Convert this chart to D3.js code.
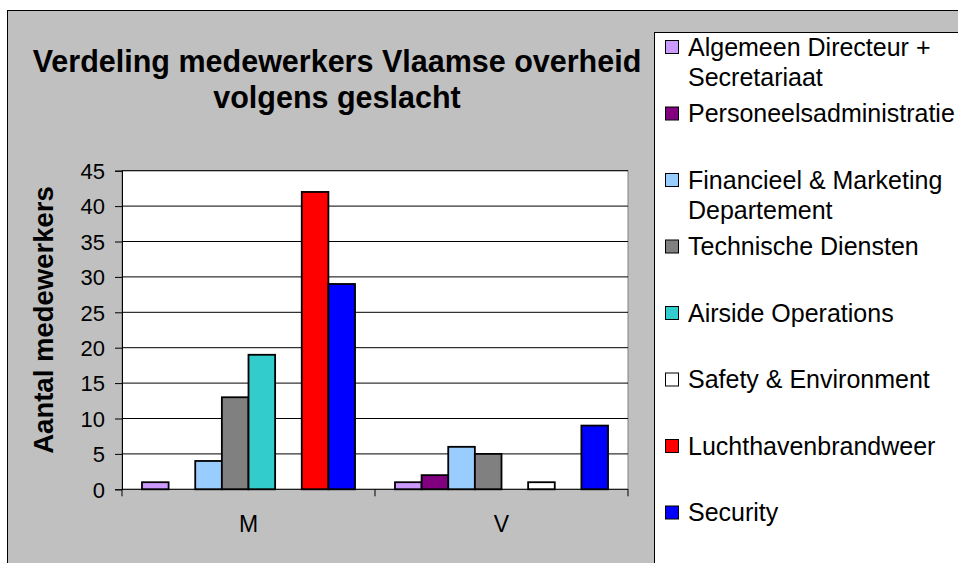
<!DOCTYPE html>
<html lang="nl">
<head>
    <meta charset="UTF-8">
    <title>Verdeling medewerkers Vlaamse overheid volgens geslacht</title>
    <script src="https://d3js.org/d3.v7.min.js"></script>
    <style>
        body {
            margin: 0;
            padding: 0;
            background: #ffffff;
        }
        svg text {
            font-family: Arial, "Liberation Sans", sans-serif;
            fill: #000;
        }
        .grid line {
            stroke: #000;
            stroke-width: 1px;
        }
        .bar {
            stroke: #000;
            stroke-width: 1.8px;
        }
    </style>
</head>
<body>
    <svg id="chart" width="958" height="563"></svg>

    <script>
        // data
        const categories = ["M", "V"];
        const seriesNames = [
            "Algemeen Directeur + Secretariaat",
            "Personeelsadministratie",
            "Financieel & Marketing Departement",
            "Technische Diensten",
            "Airside Operations",
            "Safety & Environment",
            "Luchthavenbrandweer",
            "Security"
        ];
        const valuesM = [1, 0, 4, 13, 19, 0, 42, 29];
        const valuesV = [1, 2, 6, 5, 0, 1, 0, 9];
        const seriesColors = ["#cc99ff", "#800080", "#99ccff", "#808080", "#33cccc", "#ffffff", "#ff0000", "#0000ff"];
        const yTicks = [0, 5, 10, 15, 20, 25, 30, 35, 40, 45];

        const titleLines = ["Verdeling medewerkers Vlaamse overheid", "volgens geslacht"];
        const yTitle = "Aantal medewerkers";

        const valuesByCat = { M: valuesM, V: valuesV };

        const svg = d3.select("#chart");

        // chart area (grey with black border, runs off the right and bottom)
        svg.append("rect")
            .attr("x", 7.5).attr("y", 10.5)
            .attr("width", 1000).attr("height", 600)
            .attr("fill", "#c0c0c0")
            .attr("stroke", "#000")
            .attr("stroke-width", 1);

        // title
        svg.append("g").selectAll("text")
            .data(titleLines)
            .enter().append("text")
            .attr("x", 337)
            .attr("y", (d, i) => 72 + i * 36)
            .attr("text-anchor", "middle")
            .style("font-size", "30.5px")
            .style("font-weight", "bold")
            .text(d => d);

        // plot area
        const plotLeft = 122, plotRight = 628, plotTop = 170.7, plotBottom = 489.3;

        const x0 = d3.scaleBand().domain(categories).range([plotLeft, plotRight]).padding(0);
        const x1 = d3.scaleBand().domain(seriesNames).range([0, x0.bandwidth()])
            .paddingInner(0).paddingOuter(0.75);
        const y = d3.scaleLinear().domain([0, 45]).range([plotBottom, plotTop]);

        svg.append("rect")
            .attr("x", plotLeft).attr("y", plotTop)
            .attr("width", plotRight - plotLeft).attr("height", plotBottom - plotTop)
            .attr("fill", "#fff")
            .attr("stroke", "#808080")
            .attr("stroke-width", 1);

        // gridlines
        svg.append("g").attr("class", "grid")
            .selectAll("line")
            .data(yTicks.filter(d => d > 0))
            .enter().append("line")
            .attr("x1", plotLeft).attr("x2", plotRight)
            .attr("y1", d => y(d)).attr("y2", d => y(d));

        // bars
        const groups = svg.append("g").selectAll("g")
            .data(categories)
            .enter().append("g")
            .attr("transform", d => `translate(${x0(d)},0)`);

        groups.selectAll("rect")
            .data(c => seriesNames
                .map((s, i) => ({ s: s, v: valuesByCat[c][i], color: seriesColors[i] }))
                .filter(d => d.v > 0))
            .enter().append("rect")
            .attr("class", "bar")
            .attr("x", d => x1(d.s))
            .attr("y", d => y(d.v))
            .attr("width", x1.bandwidth())
            .attr("height", d => y(0) - y(d.v))
            .attr("fill", d => d.color);

        // y axis
        const yAxis = d3.axisLeft(y).tickValues(yTicks).tickSize(7).tickPadding(10);
        const yg = svg.append("g").attr("transform", `translate(${plotLeft},0)`).call(yAxis);
        yg.select(".domain").attr("stroke", "#000");
        yg.selectAll(".tick line").attr("stroke", "#000");
        yg.attr("font-family", null).attr("font-size", null);
        yg.selectAll(".tick text")
            .style("font-size", "22px")
            .attr("dy", "0.35em");

        // x axis: ticks at category boundaries, labels centred below
        const xg = svg.append("g").attr("transform", `translate(0,${plotBottom})`);
        xg.append("line")
            .attr("x1", plotLeft).attr("x2", plotRight)
            .attr("y1", 0).attr("y2", 0)
            .attr("stroke", "#000");
        xg.selectAll(".xtick")
            .data(categories.concat(["end"]))
            .enter().append("line")
            .attr("x1", d => d === "end" ? plotRight : x0(d))
            .attr("x2", d => d === "end" ? plotRight : x0(d))
            .attr("y1", 0).attr("y2", 7)
            .attr("stroke", "#000");
        xg.selectAll(".xlabel")
            .data(categories)
            .enter().append("text")
            .attr("x", d => x0(d) + x0.bandwidth() / 2)
            .attr("y", 43)
            .attr("text-anchor", "middle")
            .style("font-size", "23px")
            .text(d => d);

        // y axis title
        svg.append("text")
            .attr("transform", "translate(53,320) rotate(-90)")
            .attr("text-anchor", "middle")
            .style("font-size", "27.5px")
            .style("font-weight", "bold")
            .text(yTitle);

        // legend
        svg.append("rect")
            .attr("x", 654.5).attr("y", 32.5)
            .attr("width", 400).attr("height", 600)
            .attr("fill", "#fff")
            .attr("stroke", "#000")
            .attr("stroke-width", 1);

        const legendFont = 25;
        const items = svg.append("g").selectAll("g")
            .data(seriesNames)
            .enter().append("g")
            .attr("transform", (d, i) => `translate(665,${47 + i * 66.5})`);

        items.append("rect")
            .attr("x", 0.5).attr("y", -6.5)
            .attr("width", 13).attr("height", 13)
            .attr("fill", (d, i) => seriesColors[i])
            .attr("stroke", "#000")
            .attr("stroke-width", 1);

        items.each(function (name) {
            const text = d3.select(this).append("text")
                .attr("x", 23)
                .attr("y", 0)
                .style("font-size", legendFont + "px");
            // simple word wrap
            const words = name.split(" ");
            let line = [];
            let tspan = text.append("tspan").attr("x", 23).attr("dy", "0.35em");
            words.forEach(w => {
                line.push(w);
                tspan.text(line.join(" "));
                if (tspan.node().getComputedTextLength() > 266 && line.length > 1) {
                    line.pop();
                    tspan.text(line.join(" "));
                    line = [w];
                    tspan = text.append("tspan").attr("x", 23).attr("dy", "30px").text(w);
                }
            });
        });
    </script>
</body>
</html>
